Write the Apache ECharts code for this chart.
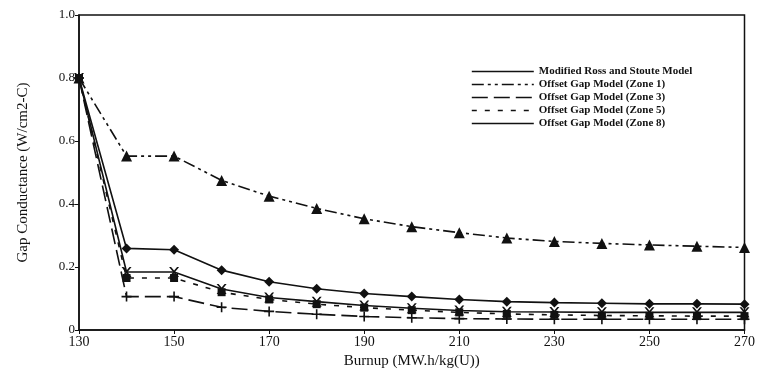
<!DOCTYPE html>
<html>
<head>
<meta charset="utf-8">
<script src="https://cdn.jsdelivr.net/npm/echarts@6/dist/echarts.min.js"></script>
<style>
  html, body { margin: 0; padding: 0; background: #fff; }
  #chart { width: 758px; height: 374px; }
</style>
</head>
<body>
<div id="chart"></div>
<script>
// Burnup points (MW.h/kg(U))
const burnup = [130, 140, 150, 160, 170, 180, 190, 200, 210, 220, 230, 240, 250, 260, 270];
const xTicks = [130, 150, 170, 190, 210, 230, 250, 270];
const yTicks = [0, 0.2, 0.4, 0.6, 0.8, 1.0];

// Gap conductance (W/cm2-C) per model
const rossStoute = [0.80, 0.259, 0.255, 0.190, 0.153, 0.131, 0.116, 0.106, 0.097, 0.090, 0.087, 0.085, 0.083, 0.083, 0.082];
const zone1      = [0.80, 0.552, 0.552, 0.475, 0.425, 0.386, 0.353, 0.328, 0.309, 0.292, 0.281, 0.275, 0.270, 0.266, 0.262];
const zone3      = [0.80, 0.106, 0.106, 0.072, 0.059, 0.050, 0.043, 0.039, 0.036, 0.035, 0.034, 0.034, 0.034, 0.034, 0.034];
const zone5      = [0.80, 0.165, 0.165, 0.120, 0.097, 0.082, 0.071, 0.063, 0.056, 0.051, 0.048, 0.046, 0.045, 0.044, 0.044];
const zone8      = [0.80, 0.184, 0.184, 0.130, 0.103, 0.090, 0.078, 0.069, 0.062, 0.058, 0.057, 0.056, 0.056, 0.056, 0.056];

const seriesNames = [
  'Modified Ross and Stoute Model',
  'Offset Gap Model (Zone 1)',
  'Offset Gap Model (Zone 3)',
  'Offset Gap Model (Zone 5)',
  'Offset Gap Model (Zone 8)'
];

const INK = '#111';
const FONT = '"Liberation Serif", "DejaVu Serif", serif';
const xMark = 'path://M0,0 L2,0 L5,3.5 L8,0 L10,0 L6,5 L10,10 L8,10 L5,6.5 L2,10 L0,10 L4,5 Z';
const plusMark = 'path://M4.2,0 L5.8,0 L5.8,4.2 L10,4.2 L10,5.8 L5.8,5.8 L5.8,10 L4.2,10 L4.2,5.8 L0,5.8 L0,4.2 L4.2,4.2 Z';

function pairs(vals) { return burnup.map((b, i) => [b, vals[i]]); }

function lineSeries(name, vals, symbol, size, dash) {
  return {
    name: name,
    type: 'line',
    data: pairs(vals),
    symbol: symbol,
    symbolSize: size,
    showAllSymbol: true,
    lineStyle: { color: INK, width: 1.6, type: dash },
    itemStyle: { color: INK, borderWidth: 0 },
    emphasis: { disabled: true },
    z: 3
  };
}

const chart = echarts.init(document.getElementById('chart'));
chart.setOption({
  animation: false,
  backgroundColor: '#fff',
  grid: { left: 79, right: 10, top: 15, bottom: 39, show: true, borderColor: INK, borderWidth: 1.5 },
  legend: {
    show: true,
    orient: 'vertical',
    left: 466,
    top: 61,
    itemWidth: 62,
    itemHeight: 8,
    itemGap: 2,
    itemStyle: { opacity: 0 },
    lineStyle: { width: 1.6 },
    textStyle: { fontFamily: FONT, fontSize: 11, fontWeight: 'bold', color: INK },
    data: seriesNames
  },
  xAxis: {
    type: 'value',
    min: 130, max: 270, interval: 20,
    axisLine: { show: true, lineStyle: { color: INK, width: 1.5 } },
    axisTick: { show: true, length: 4, inside: false, lineStyle: { color: INK } },
    splitLine: { show: false },
    axisLabel: { color: INK, fontFamily: FONT, fontSize: 14, margin: 5,
      formatter: v => (xTicks.indexOf(v) >= 0 ? String(v) : '') },
    name: 'Burnup (MW.h/kg(U))',
    nameLocation: 'middle',
    nameGap: 24,
    nameTextStyle: { color: INK, fontFamily: FONT, fontSize: 15 }
  },
  yAxis: {
    type: 'value',
    min: 0, max: 1, interval: 0.2,
    axisLine: { show: true, lineStyle: { color: INK, width: 1.5 } },
    axisTick: { show: true, length: 4, lineStyle: { color: INK } },
    splitLine: { show: false },
    axisLabel: { color: INK, fontFamily: FONT, fontSize: 13, margin: 4,
      formatter: v => {
        const t = yTicks.find(y => Math.abs(y - v) < 1e-6);
        if (t === undefined) return '';
        return t === 0 ? '0' : t.toFixed(1);
      } },
    name: 'Gap Conductance (W/cm2-C)',
    nameLocation: 'middle',
    nameGap: 48,
    nameTextStyle: { color: INK, fontFamily: FONT, fontSize: 15 }
  },
  series: [
    lineSeries(seriesNames[0], rossStoute, 'diamond', 10, 'solid'),
    lineSeries(seriesNames[1], zone1, 'triangle', 11, [12, 4, 3, 4, 3, 4]),
    lineSeries(seriesNames[2], zone3, plusMark, 10, [16, 6]),
    lineSeries(seriesNames[3], zone5, 'rect', 8, [5, 8]),
    lineSeries(seriesNames[4], zone8, xMark, 10, 'solid')
  ]
});
</script>
</body>
</html>
